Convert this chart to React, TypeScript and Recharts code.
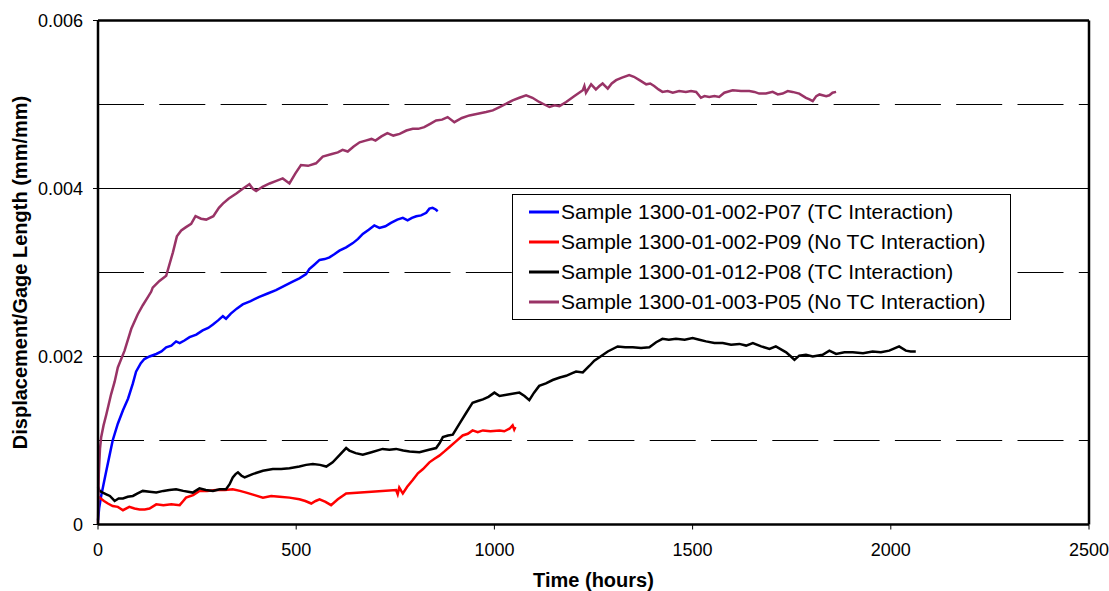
import React from "react";
import {
  LineChart,
  Line,
  XAxis,
  YAxis,
  ReferenceLine,
  Legend,
} from "recharts";

// ---------------------------------------------------------------------------
// Data (hours vs displacement / gage length)
// ---------------------------------------------------------------------------

const xTicks = [0, 500, 1000, 1500, 2000, 2500];
const yTicks = [0, 0.002, 0.004, 0.006];
const solidGrid = [0.002, 0.004];
const dashedGrid = [0.001, 0.003, 0.005];

const p07Hours = [
  0, 3, 8, 14, 21, 29, 37, 50, 63, 76, 88, 96, 108, 117, 130, 147, 160, 172,
  185, 197, 206, 218, 231, 248, 264, 278, 290, 303, 315, 323, 335, 350, 365,
  385, 407, 428, 449, 470, 491, 508, 525, 533, 545, 559, 572, 584, 597, 609,
  626, 643, 656, 668, 683, 697, 710, 725, 739, 755, 769, 781, 792, 803, 815,
  828, 836, 844, 852, 857,
];
const p07Strain = [
  0.00005, 0.0002, 0.00034, 0.00048, 0.00064, 0.00082, 0.001, 0.0012, 0.00136,
  0.0015, 0.00168, 0.00182, 0.00192, 0.00197, 0.002, 0.00203, 0.00206, 0.00211,
  0.00213, 0.00218, 0.00216, 0.00219, 0.00223, 0.00226, 0.00231, 0.00234,
  0.00238, 0.00243, 0.00248, 0.00245, 0.00251, 0.00257, 0.00262, 0.00266,
  0.00271, 0.00275, 0.00279, 0.00284, 0.00289, 0.00293, 0.00298, 0.00304,
  0.00309, 0.00315, 0.00316, 0.00318, 0.00322, 0.00326, 0.0033, 0.00335,
  0.0034, 0.00346, 0.00351, 0.00356, 0.00353, 0.00355, 0.00359, 0.00363,
  0.00365, 0.00362, 0.00365, 0.00367, 0.00368, 0.00371, 0.00376, 0.00377,
  0.00375, 0.00373,
];

const p09Hours = [
  0, 4, 15, 25, 37, 50, 63, 79, 92, 105, 118, 130, 147, 165, 185, 206, 215,
  222, 240, 256, 275, 298, 320, 340, 358, 374, 395, 416, 437, 458, 483, 508,
  523, 538, 549, 559, 574, 588, 605, 626, 690, 752, 756, 760, 765, 769, 780,
  794, 807, 820, 836, 848, 861, 874, 886, 903, 920, 933, 945, 958, 971, 990,
  1013, 1025, 1038, 1046, 1050, 1053,
];
const p09Strain = [
  0.00033, 0.00032, 0.00028, 0.00025, 0.00022, 0.00021, 0.00017, 0.00021,
  0.00019, 0.00018, 0.00018, 0.00019, 0.00024, 0.00023, 0.00024, 0.00023,
  0.00028, 0.00032, 0.00035, 0.0004, 0.0004, 0.00041, 0.00041, 0.00042,
  0.0004, 0.00038, 0.00035, 0.00032, 0.00034, 0.00033, 0.00032, 0.0003,
  0.00028, 0.00025, 0.00028, 0.0003, 0.00027, 0.00023, 0.0003, 0.00037,
  0.00039, 0.00041, 0.00036, 0.00044, 0.0004, 0.00037, 0.00045, 0.00053,
  0.00061, 0.00066, 0.00074, 0.00078, 0.00082, 0.00087, 0.00092, 0.00099,
  0.00106, 0.00108, 0.00112, 0.0011, 0.00112, 0.00111, 0.00112, 0.00111,
  0.00114, 0.00118, 0.00113, 0.00116,
];

const p08Hours = [
  0, 4, 12, 21, 30, 42, 52, 63, 75, 88, 100, 113, 130, 147, 165, 180, 197, 215,
  239, 256, 272, 290, 307, 323, 332, 340, 347, 353, 362, 370, 390, 416, 441,
  462, 483, 508, 525, 542, 560, 576, 592, 608, 626, 634, 650, 668, 690, 718,
  735, 752, 770, 786, 811, 835, 853, 862, 870, 883, 895, 912, 929, 945, 958,
  971, 985, 1000, 1013, 1038, 1063, 1076, 1088, 1100, 1113, 1130, 1147, 1165,
  1181, 1195, 1206, 1223, 1240, 1252, 1265, 1286, 1311, 1330, 1349, 1370, 1391,
  1408, 1424, 1440, 1458, 1480, 1500, 1517, 1534, 1555, 1576, 1597, 1618, 1635,
  1652, 1673, 1694, 1710, 1736, 1748, 1757, 1769, 1786, 1803, 1828, 1845, 1862,
  1883, 1904, 1930, 1954, 1975, 1996, 2021, 2038, 2050, 2063,
];
const p08Strain = [
  0.00045, 0.0004, 0.00038, 0.00036, 0.00034, 0.00028, 0.00031, 0.00031,
  0.00033, 0.00034, 0.00037, 0.0004, 0.00039, 0.00038, 0.0004, 0.00041,
  0.00042, 0.0004, 0.00038, 0.00043, 0.00041, 0.0004, 0.00042, 0.00042,
  0.00048, 0.00056, 0.0006, 0.00062, 0.00058, 0.00056, 0.0006, 0.00064,
  0.00066, 0.00066, 0.00067, 0.00069, 0.00071, 0.00072, 0.00071, 0.00069,
  0.00074, 0.00082, 0.00091, 0.00088, 0.00085, 0.00083, 0.00086, 0.0009,
  0.00089, 0.0009, 0.00088, 0.00087, 0.00086, 0.00089, 0.00091, 0.00097,
  0.00104, 0.00106, 0.00107, 0.0012, 0.00133, 0.00145, 0.00147, 0.00149,
  0.00152, 0.00157, 0.00153, 0.00155, 0.00157, 0.00153, 0.00148, 0.00157,
  0.00165, 0.00168, 0.00172, 0.00175, 0.00177, 0.0018, 0.00182, 0.00181,
  0.00189, 0.00195, 0.00199, 0.00206, 0.00212, 0.00211, 0.00211, 0.0021,
  0.00211, 0.00217, 0.00221, 0.0022, 0.00221, 0.0022, 0.00222, 0.0022,
  0.00218, 0.00216, 0.00216, 0.00214, 0.00215, 0.00213, 0.00216, 0.00212,
  0.00209, 0.00212, 0.00205, 0.002, 0.00196, 0.00201, 0.00202, 0.002, 0.00202,
  0.00207, 0.00203, 0.00205, 0.00205, 0.00204, 0.00206, 0.00205, 0.00207,
  0.00212, 0.00207, 0.00206, 0.00206,
];

const p05Hours = [
  0, 2, 5, 8, 14, 21, 33, 42, 50, 67, 84, 100, 113, 125, 134, 138, 155, 172,
  189, 199, 210, 222, 235, 246, 260, 273, 291, 305, 315, 330, 349, 366, 382,
  390, 399, 415, 433, 450, 466, 483, 498, 512, 530, 550, 567, 590, 605, 617,
  630, 645, 660, 675, 690, 700, 715, 730, 745, 761, 778, 794, 808, 823, 838,
  853, 868, 882, 899, 918, 937, 958, 979, 996, 1013, 1030, 1046, 1063, 1080,
  1096, 1113, 1126, 1139, 1152, 1164, 1181, 1202, 1223, 1227, 1231, 1240, 1244,
  1256, 1265, 1273, 1286, 1296, 1307, 1322, 1340, 1352, 1366, 1383, 1393, 1403,
  1414, 1424, 1437, 1450, 1466, 1483, 1496, 1509, 1521, 1530, 1542, 1555, 1567,
  1580, 1601, 1622, 1643, 1656, 1668, 1685, 1702, 1715, 1727, 1740, 1752, 1769,
  1786, 1795, 1803, 1812, 1820, 1837, 1845, 1853, 1862,
];
const p05Strain = [
  0, 0.0006, 0.0009, 0.00104, 0.00118, 0.00131, 0.00155, 0.0017, 0.00187,
  0.00207, 0.00233, 0.0025, 0.00261, 0.0027, 0.00277, 0.00282, 0.0029,
  0.00296, 0.00324, 0.00343, 0.0035, 0.00354, 0.00358, 0.00367, 0.00364,
  0.00363, 0.00367, 0.00377, 0.00382, 0.00388, 0.00394, 0.004, 0.00405,
  0.004, 0.00397, 0.00402, 0.00406, 0.00409, 0.00412, 0.00406, 0.00418,
  0.00428, 0.00427, 0.0043, 0.00438, 0.00441, 0.00443, 0.00446, 0.00444,
  0.0045, 0.00455, 0.00457, 0.00459, 0.00457, 0.00462, 0.00466, 0.00463,
  0.00465, 0.00469, 0.00471, 0.00471, 0.00473, 0.00477, 0.00481, 0.00482,
  0.00485, 0.00479, 0.00484, 0.00487, 0.00489, 0.00491, 0.00493, 0.00497,
  0.00501, 0.00505, 0.00508, 0.00511, 0.00508, 0.00503, 0.005, 0.00497,
  0.00499, 0.00498, 0.00503, 0.0051, 0.00517, 0.00522, 0.00514, 0.00521,
  0.00524, 0.00518, 0.00522, 0.00525, 0.00519, 0.00525, 0.00529, 0.00532,
  0.00535, 0.00533, 0.00529, 0.00524, 0.00525, 0.00522, 0.00518, 0.00515,
  0.00516, 0.00514, 0.00516, 0.00515, 0.00516, 0.00515, 0.00508, 0.0051,
  0.00509, 0.0051, 0.00509, 0.00514, 0.00517, 0.00516, 0.00516, 0.00515,
  0.00513, 0.00513, 0.00515, 0.00512, 0.00513, 0.00516, 0.00515, 0.00513,
  0.00508, 0.00506, 0.00504, 0.0051, 0.00512, 0.0051, 0.00511, 0.00514,
  0.00515,
];

const series = [
  { name: "Sample 1300-01-002-P07 (TC Interaction)", color: "#0000ff", hours: p07Hours, strain: p07Strain },
  { name: "Sample 1300-01-002-P09 (No TC Interaction)", color: "#ff0000", hours: p09Hours, strain: p09Strain },
  { name: "Sample 1300-01-012-P08 (TC Interaction)", color: "#000000", hours: p08Hours, strain: p08Strain },
  { name: "Sample 1300-01-003-P05 (No TC Interaction)", color: "#993366", hours: p05Hours, strain: p05Strain },
];

const FONT = '"Liberation Sans", Arial, Helvetica, sans-serif';

// ---------------------------------------------------------------------------
// Legend box
// ---------------------------------------------------------------------------

function LegendBox() {
  return (
    <div
      style={{
        width: 499,
        boxSizing: "border-box",
        border: "1px solid #000",
        background: "#fff",
        padding: "2px 0",
        fontFamily: FONT,
        fontSize: 21,
        color: "#000",
      }}
    >
      {series.map((s) => (
        <div
          key={s.name}
          style={{ height: 30, display: "flex", alignItems: "center", whiteSpace: "nowrap" }}
        >
          <svg width={48} height={30} style={{ flex: "none" }}>
            <line x1={16} y1={15} x2={46} y2={15} stroke={s.color} strokeWidth={3} />
          </svg>
          <span>{s.name}</span>
        </div>
      ))}
    </div>
  );
}

// ---------------------------------------------------------------------------
// Chart
// ---------------------------------------------------------------------------

export default function App() {
  return (
    <div style={{ position: "absolute", left: 0, top: 0, background: "#fff" }}>
      <LineChart
        width={1109}
        height={591}
        margin={{ top: 20.5, right: 20, left: 0, bottom: 0 }}
        style={{ fontFamily: FONT }}
      >
        <XAxis
          dataKey="x"
          type="number"
          domain={[0, 2500]}
          ticks={xTicks}
          allowDuplicatedCategory={false}
          height={66.5}
          tickSize={5}
          tickMargin={14}
          tick={{ fill: "#000", fontSize: 18 }}
          tickLine={{ stroke: "#000" }}
          axisLine={{ stroke: "#000", strokeWidth: 2.5 }}
          label={{
            value: "Time (hours)",
            position: "insideBottom",
            offset: 4,
            style: { fontSize: 20, fontWeight: 700, fill: "#000" },
          }}
        />
        <YAxis
          type="number"
          domain={[0, 0.006]}
          ticks={yTicks}
          width={98}
          tickSize={5}
          tickMargin={10}
          tick={{ fill: "#000", fontSize: 18 }}
          tickLine={{ stroke: "#000" }}
          axisLine={{ stroke: "#000", strokeWidth: 2.5 }}
          tickFormatter={(v: number) => (v === 0 ? "0" : v.toFixed(3))}
          label={{
            value: "Displacement/Gage Length (mm/mm)",
            angle: -90,
            position: "insideLeft",
            offset: 20,
            style: { fontSize: 20, fontWeight: 700, fill: "#000", textAnchor: "middle" },
          }}
        />

        {solidGrid.map((v) => (
          <ReferenceLine key={`s-${v}`} y={v} stroke="#000" strokeWidth={1} />
        ))}
        {dashedGrid.map((v) => (
          <ReferenceLine key={`d-${v}`} y={v} stroke="#000" strokeWidth={1} strokeDasharray="46 15.3" />
        ))}

        {/* plot frame: top and right edges */}
        <ReferenceLine y={0.006} stroke="#000" strokeWidth={2.5} />
        <ReferenceLine x={2500} stroke="#000" strokeWidth={2.5} />

        {series.map((s) => (
          <Line
            key={s.name}
            name={s.name}
            data={s.hours.map((h, i) => ({ x: h, y: s.strain[i] }))}
            dataKey="y"
            type="linear"
            stroke={s.color}
            strokeWidth={2.5}
            dot={false}
            isAnimationActive={false}
          />
        ))}

        <Legend
          layout="vertical"
          align="center"
          verticalAlign="middle"
          wrapperStyle={{ left: 512, top: 194, width: 499 }}
          content={() => <LegendBox />}
        />
      </LineChart>
    </div>
  );
}
